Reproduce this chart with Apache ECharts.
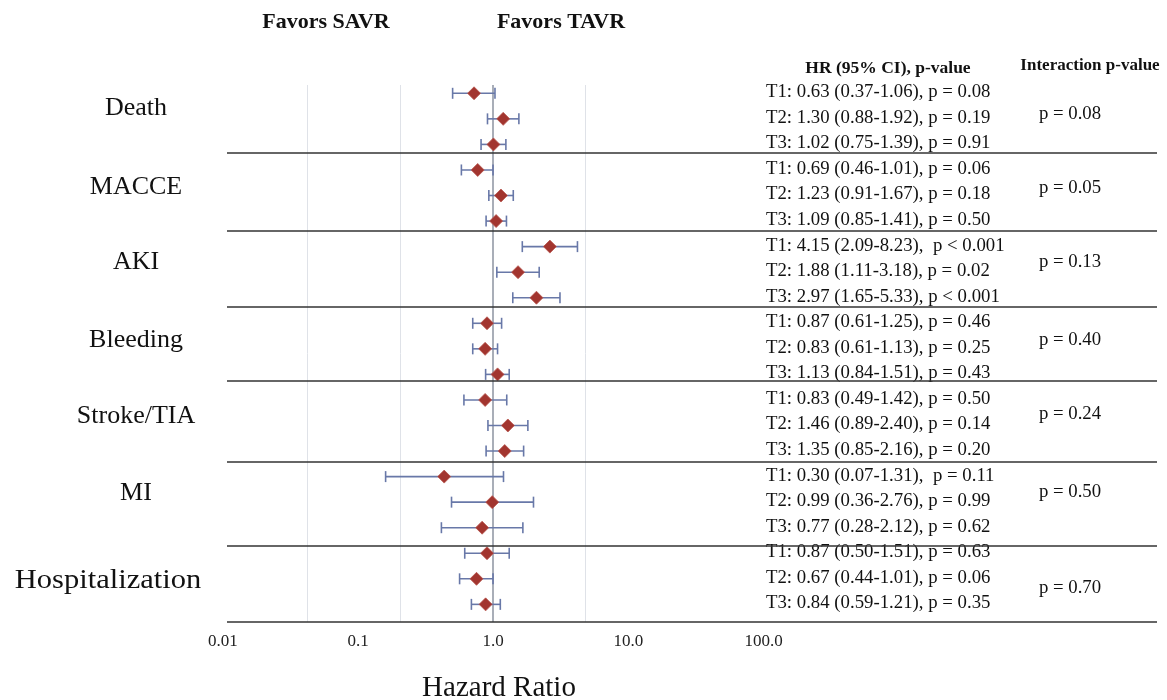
<!DOCTYPE html>
<html lang="en">
<head>
<meta charset="UTF-8">
<title>Forest plot - HR by tertile</title>
<style>
    html,body{
        margin: 0;
        padding: 0;
        background: #fff;
    }
    #chartmain{
        width: 1167px;
        height: 700px;
    }
</style>
</head>
<body>
<div id="chartmain"></div>
<script src="https://cdn.jsdelivr.net/npm/echarts@6/dist/echarts.min.js"></script>
<script>
// outcome groups, 3 tertiles each
var groups = ['Death', 'MACCE', 'AKI', 'Bleeding', 'Stroke/TIA', 'MI', 'Hospitalization'];
var tertiles = ['T1', 'T2', 'T3'];
var hr     = [0.63, 1.30, 1.02,  0.69, 1.23, 1.09,  4.15, 1.88, 2.97,  0.87, 0.83, 1.13,  0.83, 1.46, 1.35,  0.30, 0.99, 0.77,  0.87, 0.67, 0.84];
var ciLow  = [0.37, 0.88, 0.75,  0.46, 0.91, 0.85,  2.09, 1.11, 1.65,  0.61, 0.61, 0.84,  0.49, 0.89, 0.85,  0.07, 0.36, 0.28,  0.50, 0.44, 0.59];
var ciHigh = [1.06, 1.92, 1.39,  1.01, 1.67, 1.41,  8.23, 3.18, 5.33,  1.25, 1.13, 1.51,  1.42, 2.40, 2.16,  1.31, 2.76, 2.12,  1.51, 1.01, 1.21];
var pText  = ['p = 0.08', 'p = 0.19', 'p = 0.91',  'p = 0.06', 'p = 0.18', 'p = 0.50',  ' p < 0.001', 'p = 0.02', 'p < 0.001',
              'p = 0.46', 'p = 0.25', 'p = 0.43',  'p = 0.50', 'p = 0.14', 'p = 0.20',  ' p = 0.11', 'p = 0.99', 'p = 0.62',
              'p = 0.63', 'p = 0.06', 'p = 0.35'];
var interactionP = ['p = 0.08', 'p = 0.05', 'p = 0.13', 'p = 0.40', 'p = 0.24', 'p = 0.50', 'p = 0.70'];
var tickLabels = ['0.01', '0.1', '1.0', '10.0', '100.0'];

// where the group captions sit, in row units (layout only)
var labelRow = [0.57, 3.66, 6.6, 9.68, 12.62, 15.66, 19.08];
var interRow = [0.82, 3.7, 6.6, 9.64, 12.54, 15.6, 19.37];

var serif = '"Liberation Serif", "DejaVu Serif", serif';

var barData = [];
var pointData = [];
for (var i = 0; i < hr.length; i++) {
    barData.push([i, ciLow[i], ciHigh[i]]);
    pointData.push([hr[i], i]);
}

var option = {
    animation: false,
    grid: [
        {left: 307.3, top: 85, width: 278, height: 537},
        {left: 222.8, top: 621, width: 540.8, height: 1}
    ],
    xAxis: [
        {
            gridIndex: 0, type: 'log', logBase: 10, min: 0.01, max: 10,
            axisLine: {show: false}, axisTick: {show: false}, axisLabel: {show: false},
            splitLine: {show: true, lineStyle: {color: '#dfe2e8', width: 1}}
        },
        {
            gridIndex: 1, type: 'log', logBase: 10, min: 0.01, max: 100,
            axisLine: {show: false}, axisTick: {show: false}, splitLine: {show: false},
            axisLabel: {
                margin: 11, fontSize: 17, color: '#222', fontFamily: serif,
                formatter: function (v) {
                    return tickLabels[Math.round(Math.log(v) / Math.LN10) + 2];
                }
            }
        }
    ],
    yAxis: [
        {gridIndex: 0, type: 'value', inverse: true, min: -0.325, max: 20.69, show: false},
        {gridIndex: 1, type: 'value', show: false}
    ],
    series: [
        {
            // confidence intervals
            type: 'custom',
            xAxisIndex: 0, yAxisIndex: 0,
            data: barData,
            encode: {x: [1, 2], y: 0},
            renderItem: function (params, api) {
                var row = api.value(0);
                var a = api.coord([api.value(1), row]);
                var b = api.coord([api.value(2), row]);
                var h = 5.5;
                var st = {stroke: '#6878a8', lineWidth: 1.6};
                return {
                    type: 'group',
                    children: [
                        {type: 'line', shape: {x1: a[0], y1: a[1], x2: b[0], y2: b[1]}, style: st},
                        {type: 'line', shape: {x1: a[0], y1: a[1] - h, x2: a[0], y2: a[1] + h}, style: st},
                        {type: 'line', shape: {x1: b[0], y1: b[1] - h, x2: b[0], y2: b[1] + h}, style: st}
                    ]
                };
            },
            z: 3
        },
        {
            type: 'scatter',
            xAxisIndex: 0, yAxisIndex: 0,
            data: pointData,
            symbol: 'diamond',
            symbolSize: [13, 13],
            itemStyle: {color: '#a2352f', borderColor: '#b8574f', borderWidth: 0.8, opacity: 1},
            z: 4,
            markLine: {
                silent: true,
                symbol: 'none',
                label: {show: false},
                lineStyle: {color: '#a9aeb8', width: 2, type: 'solid'},
                data: [{xAxis: 1}],
                z: 2
            }
        }
    ]
};

var chart = echarts.init(document.getElementById('chartmain'));
chart.setOption(option);

// table text and separators
var graphics = [];
function txt(x, y, s, size, align, bold, sx) {
    graphics.push({
        type: 'text',
        x: x, y: y,
        scaleX: sx || 1,
        style: {
            text: s, fill: '#111',
            font: (bold ? 'bold ' : '') + size + 'px ' + serif,
            align: align, verticalAlign: 'middle',
            textAlign: align, textVerticalAlign: 'middle'
        },
        z: 10
    });
}
function hline(y) {
    graphics.push({
        type: 'line',
        shape: {x1: 227, y1: y, x2: 1157, y2: y},
        style: {stroke: '#333', lineWidth: 1.5},
        z: 10
    });
}
function rowY(r) {
    return chart.convertToPixel({yAxisIndex: 0}, r);
}

txt(326, 22, 'Favors SAVR', 22, 'center', true);
txt(561, 22, 'Favors TAVR', 22, 'center', true);
txt(888, 68, 'HR (95% CI), p-value', 17.5, 'center', true);
txt(1090, 66, 'Interaction p-value', 17, 'center', true);
txt(499, 688, 'Hazard Ratio', 29, 'center', false);

for (var i = 0; i < hr.length; i++) {
    var t = tertiles[i % 3] + ': ' + hr[i].toFixed(2) + ' (' + ciLow[i].toFixed(2) + '-' + ciHigh[i].toFixed(2) + '), ' + pText[i];
    txt(766, rowY(i) - 1, t, 18.8, 'left', false);
}
for (var g = 0; g < groups.length; g++) {
    var big = groups[g] === 'Hospitalization';
    txt(big ? 108 : 136, rowY(labelRow[g]), groups[g], big ? 27 : 26, 'center', false, big ? 1.13 : 1);
    txt(1070, rowY(interRow[g]), interactionP[g], 18.8, 'center', false);
}
[153, 231, 307, 381, 462, 546, 622].forEach(hline);

chart.setOption({graphic: graphics});
</script>
</body>
</html>
